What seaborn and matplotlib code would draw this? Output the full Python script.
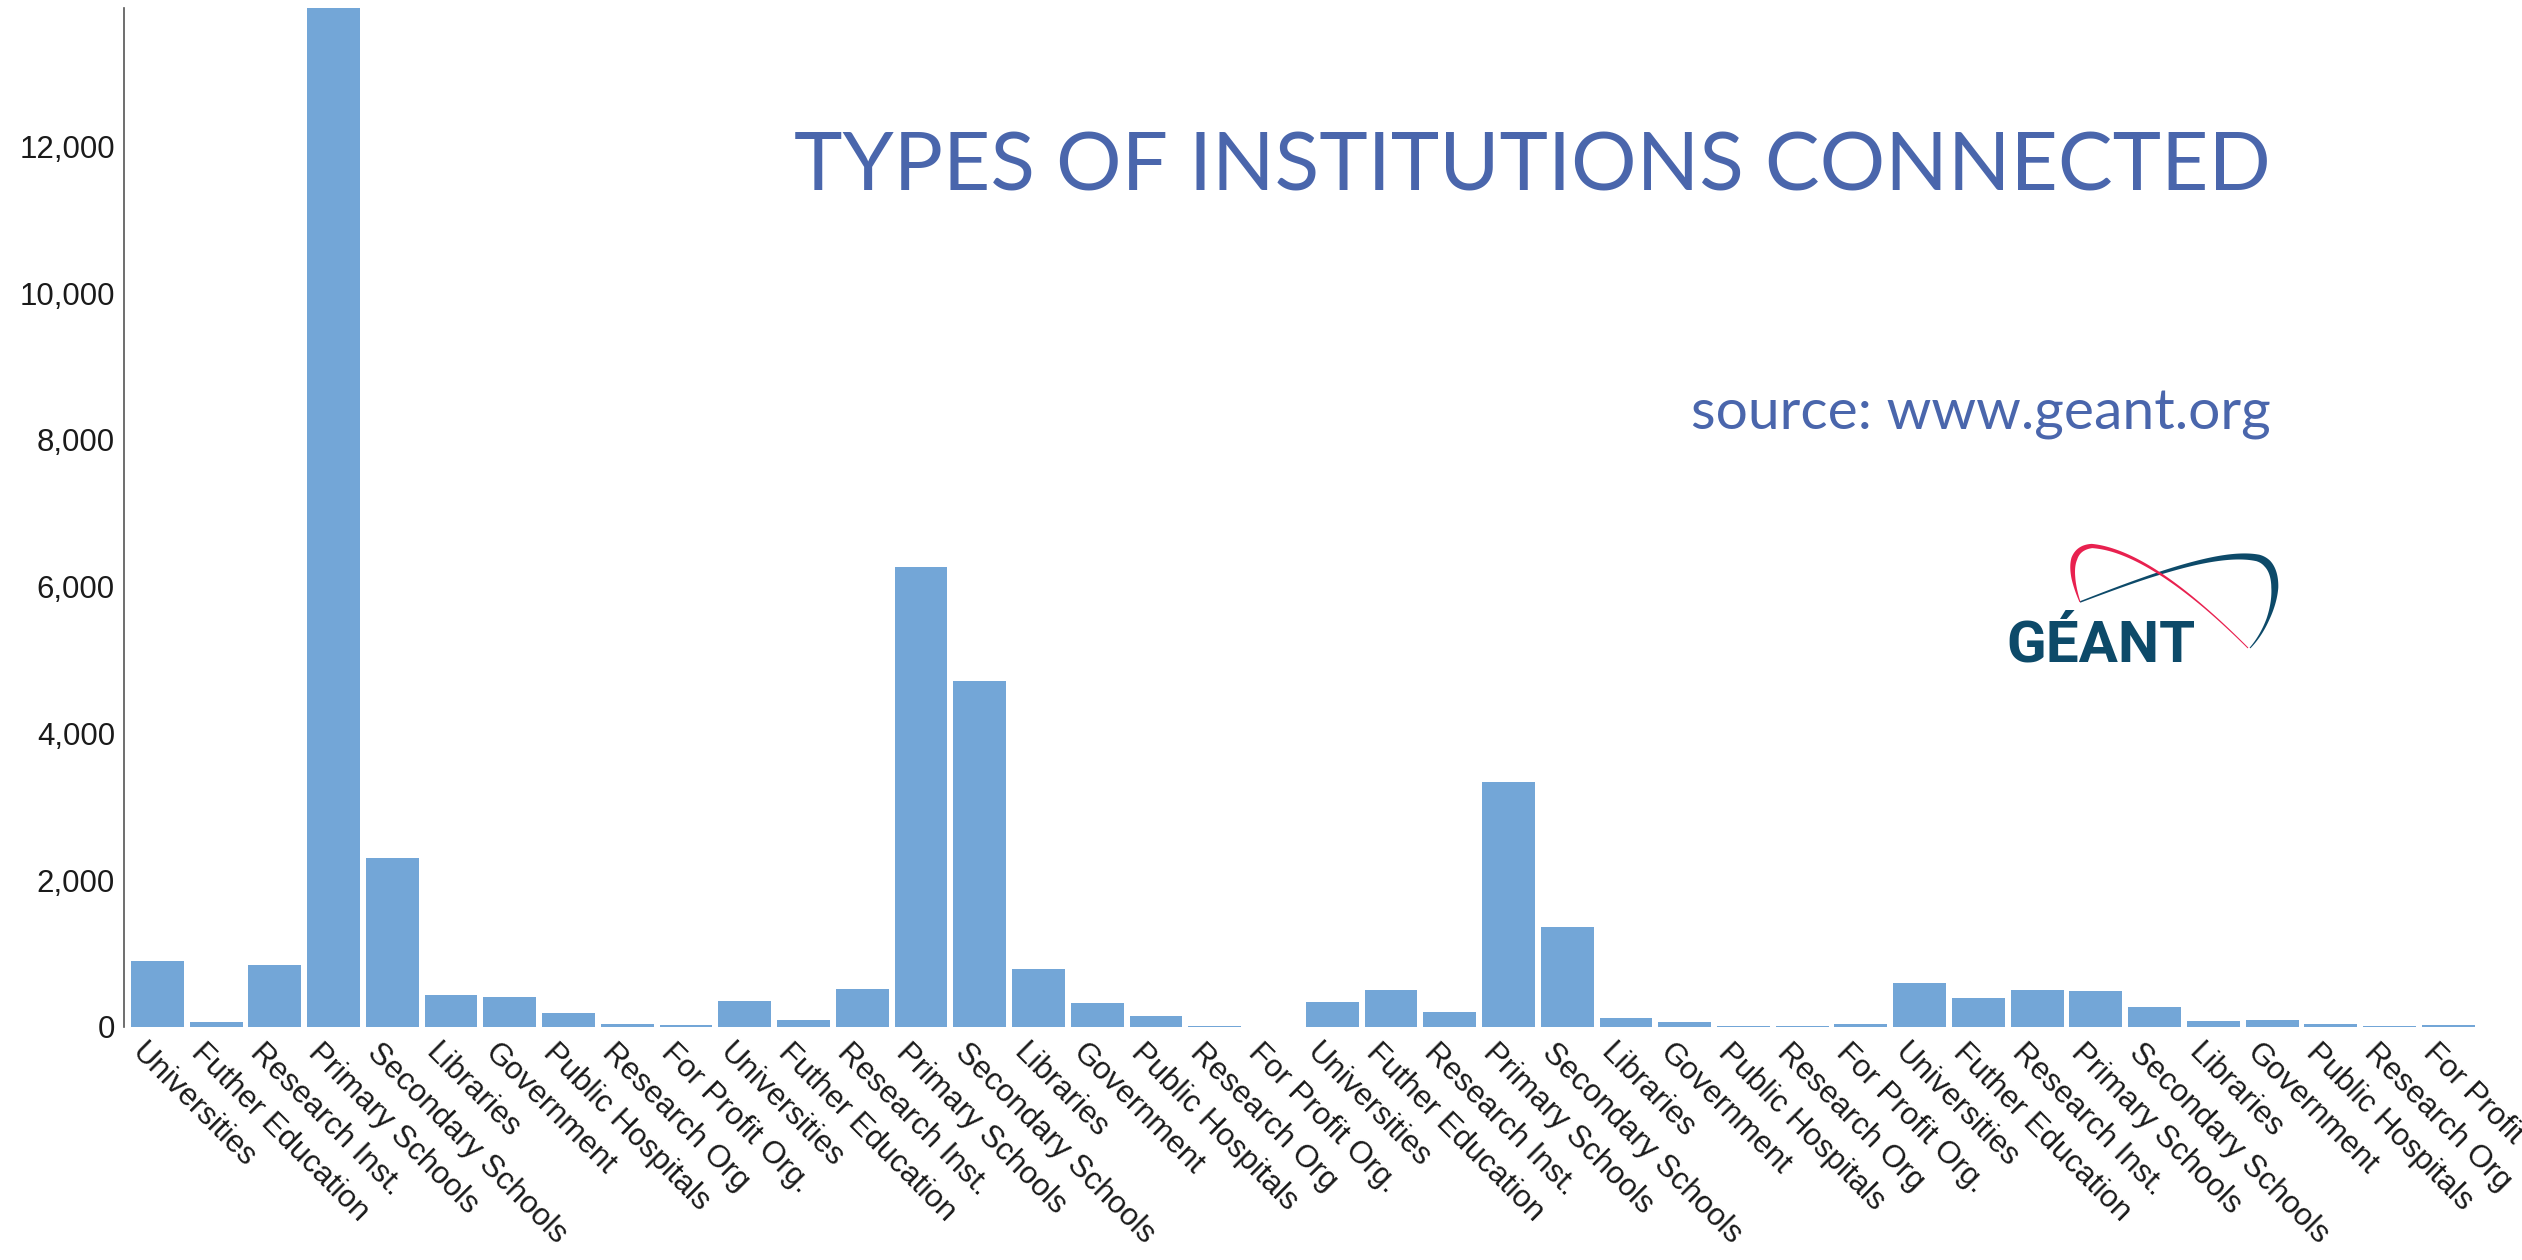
import numpy as np
import pandas as pd
import matplotlib
matplotlib.use("Agg")
import matplotlib.pyplot as plt
import seaborn as sns
from matplotlib.ticker import FuncFormatter
from matplotlib.transforms import ScaledTranslation
from matplotlib.patches import Polygon

# ---------------- data ----------------
categories = ["Universities", "Futher Education", "Research Inst.", "Primary Schools",
              "Secondary Schools", "Libraries", "Government", "Public Hospitals",
              "Research Org", "For Profit Org."]
group1 = [900, 60, 840, 13890, 2300, 430, 410, 190, 35, 20]
group2 = [350, 90, 520, 6270, 4710, 785, 325, 145, 15, 0]
group3 = [330, 495, 205, 3330, 1355, 125, 65, 12, 10, 30]
group4 = [590, 395, 505, 480, 265, 75, 90, 40, 12, 20]
y_ticks = [0, 2000, 4000, 6000, 8000, 10000, 12000]
title_text = "TYPES OF INSTITUTIONS CONNECTED"
source_text = "source: www.geant.org"
logo_text = "GÉANT"

values = group1 + group2 + group3 + group4
labels = categories * 4
df = pd.DataFrame({"pos": list(range(len(values))), "label": labels, "value": values})

# ---------------- style ----------------
W, H, DPI = 2522, 1260, 100
BAR = "#73a6d7"
TITLE_C = "#4a66ac"
NAVY = "#0d4a69"
PINK = "#e8214f"

sns.set_style("white")
plt.rcParams["font.family"] = ["Liberation Sans", "DejaVu Sans"]

fig = plt.figure(figsize=(W / DPI, H / DPI), dpi=DPI)
ax = fig.add_axes([123.7 / W, (H - 1026.7) / H, (2482 - 123.7) / W, (1026.7 - 8) / H])

sns.barplot(data=df, x="pos", y="value", color=BAR, saturation=1, width=0.9,
            errorbar=None, ax=ax, linewidth=0)

ax.set_xlim(-0.5725, len(values) - 1 + 0.5725)
ax.set_ylim(0, max(values))
ax.set_xlabel("")
ax.set_ylabel("")

for s in ["top", "right", "bottom"]:
    ax.spines[s].set_visible(False)
ax.spines["left"].set_color("#555555")
ax.spines["left"].set_linewidth(1.2)

ax.set_yticks(y_ticks)
ax.yaxis.set_major_formatter(FuncFormatter(lambda v, p: f"{int(v):,}"))
ax.tick_params(axis="y", length=0, pad=6.3, labelsize=22.5, labelcolor="#1a1a1a")

ax.set_xticks(range(len(values)))
ax.set_xticklabels(labels, rotation=-45, ha="left", va="top", rotation_mode="anchor",
                   fontsize=22.5, color="#1a1a1a")
ax.tick_params(axis="x", length=0, pad=8)
shift = ScaledTranslation(-10 / DPI, 0, fig.dpi_scale_trans)
for lbl in ax.get_xticklabels():
    lbl.set_transform(lbl.get_transform() + shift)

# ---------------- titles ----------------
fig.text(2271 / W, 1 - 190.7 / H, title_text, ha="right", va="baseline",
         color=TITLE_C, fontsize=59, family=["Lato", "DejaVu Sans"])
fig.text(2271 / W, 1 - 429 / H, source_text, ha="right", va="baseline",
         color=TITLE_C, fontsize=41, family=["Lato", "DejaVu Sans"])

# ---------------- logo ----------------
fig.text(2006 / W, 1 - 662 / H, logo_text, ha="left", va="baseline",
         color=NAVY, fontsize=42, fontweight="bold", family=["Roboto", "DejaVu Sans"])


def bezier(p0, p1, p2, p3, n=60):
    t = np.linspace(0, 1, n)[:, None]
    p0, p1, p2, p3 = map(np.array, (p0, p1, p2, p3))
    return (1 - t) ** 3 * p0 + 3 * (1 - t) ** 2 * t * p1 + 3 * (1 - t) * t ** 2 * p2 + t ** 3 * p3


def stroke(segments, widths, color):
    pts = np.vstack([bezier(*s) for s in segments])
    w = np.interp(np.linspace(0, 1, len(pts)), np.linspace(0, 1, len(widths)), widths)
    d = np.gradient(pts, axis=0)
    d /= np.linalg.norm(d, axis=1)[:, None] + 1e-9
    nrm = np.column_stack([-d[:, 1], d[:, 0]])
    left = pts + nrm * w[:, None] / 2
    right = pts - nrm * w[:, None] / 2
    poly = np.vstack([left, right[::-1]])
    poly = np.column_stack([poly[:, 0] / W, 1 - poly[:, 1] / H])
    fig.add_artist(Polygon(poly, closed=True, facecolor=color, edgecolor="none",
                           transform=fig.transFigure))


stroke([((2080, 602), (2150, 575), (2220, 550), (2258, 558)),
        ((2258, 558), (2286, 566), (2276, 620), (2250, 648))],
       [1.5, 2.5, 4, 6, 8, 7, 3, 1], NAVY)
stroke([((2080, 602), (2068, 570), (2070, 548), (2092, 546)),
        ((2092, 546), (2140, 550), (2200, 600), (2248, 648))],
       [1, 4, 6, 5, 3.5, 2.5, 1.5, 1], PINK)

fig.savefig("out.png", dpi=DPI, facecolor="white")
